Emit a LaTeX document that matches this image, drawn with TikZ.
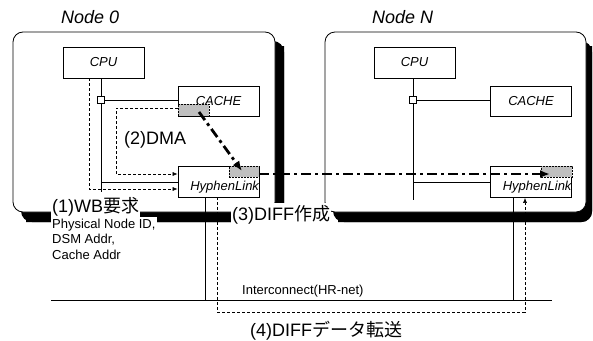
\documentclass[tikz,border=0pt]{standalone}
\usepackage{fontspec}
\setmainfont{Liberation Sans}
\newfontfamily\cjk{Noto Sans CJK JP}
\usetikzlibrary{arrows.meta}
\definecolor{shadowcol}{RGB}{0,0,0}
\begin{document}
\begin{tikzpicture}[x=1pt,y=-1pt,
  nodebox/.style={draw=black, line width=0.8pt, fill=white, rounded corners=10pt, inner sep=0pt},
  shadowline/.style={draw=shadowcol, line width=9pt, rounded corners=6pt},
  unit/.style={draw=black, line width=0.7pt, fill=white, inner sep=0pt, font=\fontsize{13}{15}\selectfont\itshape},
  hatch/.style={draw=black, dash pattern=on 2pt off 1pt, line width=0.4pt, fill=black!25, inner sep=0pt},
  bus/.style={line width=0.9pt},
  flow/.style={dash pattern=on 3pt off 2pt, line width=0.6pt, -{Latex[length=5pt,width=4pt]}},
  dd/.style={line width=2.8pt, dash pattern=on 10pt off 4pt on 3pt off 4pt, -{Latex[length=10pt,width=8pt]}},
  small/.style={font=\fontsize{13}{15.5}\selectfont},
  big/.style={font=\fontsize{18}{21}\selectfont},
  jct/.style={draw=black, fill=white, minimum size=7pt, inner sep=0pt, line width=0.6pt},
]
\useasboundingbox (0,0) rectangle (593,340);

% shadows
\fill[shadowcol, rounded corners=11pt] (21,41) rectangle (284,222);
\fill[shadowcol, rounded corners=11pt] (333,41) rectangle (592,222);
\draw[shadowline] (279.5,46) -- (279.5,217.5) -- (26,217.5);
\draw[shadowline] (587.5,46) -- (587.5,217.5) -- (338,217.5);
% node boxes
\node[nodebox, minimum width=262pt, minimum height=180pt] (n0) at (144,122) {};
\node[nodebox, minimum width=261pt, minimum height=180pt] (nN) at (455.5,122) {};

% units Node 0
\node[unit, minimum width=81pt, minimum height=31pt] (cpu0) at (103.5,62.5) {CPU};
\node[unit, minimum width=81pt, minimum height=30pt] (cache0) at (218.5,101) {CACHE};
\node[unit, minimum width=81pt, minimum height=31pt, text width=81pt, align=right, text height=17.5pt, text depth=0pt] (hl0) at (218.5,181.5) {HyphenLink};
% units Node N
\node[unit, minimum width=81pt, minimum height=31pt] (cpuN) at (414.5,62.5) {CPU};
\node[unit, minimum width=81pt, minimum height=30pt] (cacheN) at (531,101) {CACHE};
\node[unit, minimum width=81pt, minimum height=31pt, text width=81pt, align=right, text height=17.5pt, text depth=0pt] (hlN) at (531,182) {HyphenLink};

% hatched regions
\node[hatch, minimum width=31pt, minimum height=12pt] (hc0) at (193.5,110) {};
\node[hatch, minimum width=30pt, minimum height=11pt] (hh0) at (244,171.5) {};
\node[hatch, minimum width=31pt, minimum height=11pt] (hhN) at (556.5,171.5) {};

% buses Node 0
\coordinate (j0c) at (101,100);
\coordinate (b0bot) at (101,192);
\coordinate (b0h) at (101,182);
\draw[bus] (cpu0.south -| j0c) -- (b0bot);
\draw[bus] (j0c) -- (j0c -| cache0.west);
\draw[bus] (b0h) -- (b0h -| hl0.west);
\node[jct] (j0) at (j0c) {};

% buses Node N
\coordinate (jNc) at (413,100);
\coordinate (bNbot) at (413,200);
\coordinate (bNh) at (413,182);
\draw[bus] (cpuN.south -| jNc) -- (bNbot);
\draw[bus] (jNc) -- (jNc -| cacheN.west);
\draw[bus] (bNh) -- (bNh -| hlN.west);
\node[jct] (jN) at (jNc) {};

% dashed flows in Node 0
\coordinate (f1a) at (89,78);
\coordinate (f1b) at (89,189);
\draw[flow] (f1a) -- (f1b) -- (f1b -| hl0.west);
\coordinate (f2a) at (178,108);
\coordinate (f2b) at (116,108);
\coordinate (f2c) at (116,174);
\draw[flow] (f2a) -- (f2b) -- (f2c) -- (f2c -| hl0.west);

% interconnect
\coordinate (v0) at (205,300);
\coordinate (vN) at (513,300);
\coordinate (icL) at (51,300);
\coordinate (icR) at (552,300);
\draw[bus] (hl0.south -| v0) -- (v0);
\draw[bus] (hlN.south -| vN) -- (vN);
\draw[bus] (icL) -- (icR);
\coordinate (d4a) at (217,312);
\coordinate (d4b) at (525,312);
\draw[flow] (hl0.south -| d4a) -- (d4a) -- (d4b) -- (hlN.south -| d4b);

% dash-dot transfers
\coordinate (dd1) at (199,112);
\coordinate (dd2) at (242,171);
\coordinate (dd3) at (550,174);
\draw[dd] (dd1) -- (dd2);
\draw[dd] (hh0.east |- dd3) -- (dd3);

% labels
\node[big, font=\fontsize{18}{21}\selectfont\itshape, anchor=base west, inner sep=0pt] (t0) at (61,23) {Node 0};
\node[big, font=\fontsize{18}{21}\selectfont\itshape, anchor=base west, inner sep=0pt] (tN) at (372,23) {Node N};
\node[big, fill=white, inner xsep=1pt, inner ysep=2pt, anchor=base west] (wb) at (51,212) {(1)WB{\cjk 要求}};
\node[small, fill=white, inner xsep=1pt, inner ysep=2pt, anchor=base west] (pn) at (51,228) {Physical Node ID,};
\node[small, anchor=base west, inner xsep=1pt] (dsm) at (51,243.5) {DSM Addr,};
\node[small, anchor=base west, inner xsep=1pt] (ca) at (51,259) {Cache Addr};
\node[big, anchor=base west, inner sep=0pt] (dma) at (124,144.5) {(2)DMA};
\node[big, fill=white, inner xsep=1pt, inner ysep=2pt, anchor=base west] (diff) at (231,220) {(3)DIFF{\cjk 作成}};
\node[small, anchor=base west, inner sep=0pt] (ic) at (242,294.5) {Interconnect(HR-net)};
\node[big, anchor=base west, inner sep=0pt] (xfer) at (250,336) {(4)DIFF{\cjk データ転送}};
\end{tikzpicture}
\end{document}
